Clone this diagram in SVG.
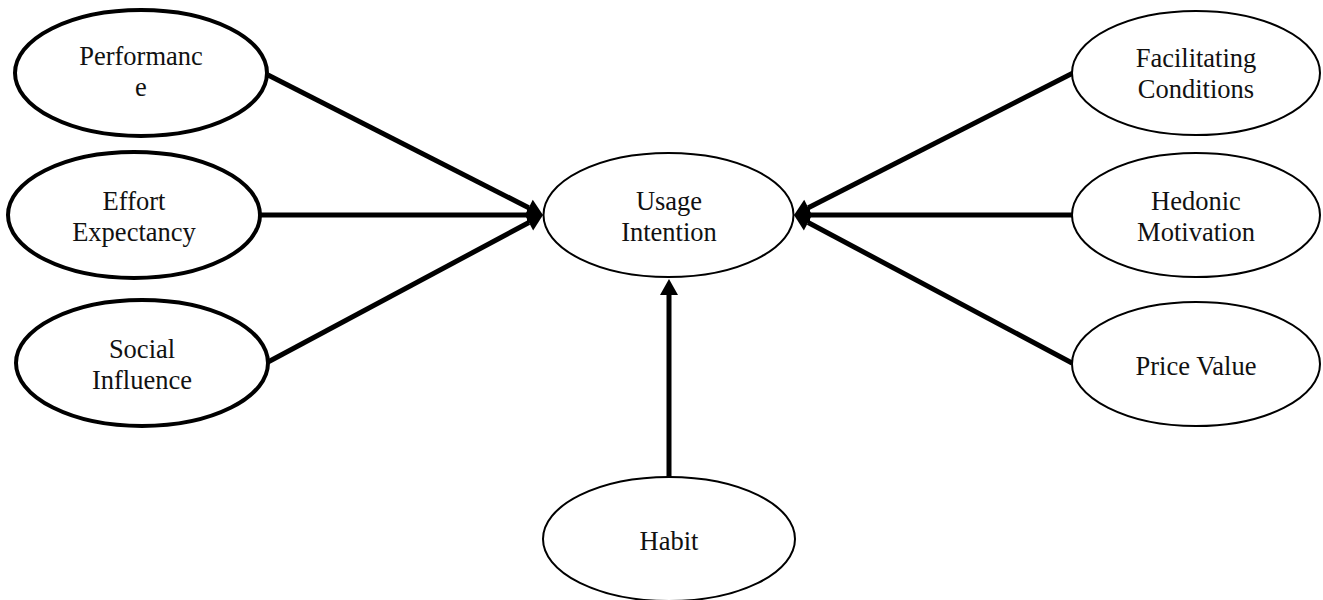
<svg xmlns="http://www.w3.org/2000/svg" width="1323" height="600" viewBox="0 0 1323 600">
  <style>
    .thick { fill: #fff; stroke: #000; stroke-width: 4; }
    .thin { fill: #fff; stroke: #000; stroke-width: 2; }
    .lbl { font-family: "Liberation Serif", "Times New Roman", serif; font-size: 26.5px; fill: #111; text-anchor: middle; }
    .conn { stroke: #000; stroke-width: 5; fill: none; marker-end: url(#arrow); }
  </style>
  <defs>
    <marker id="arrow" markerUnits="userSpaceOnUse" markerWidth="16" markerHeight="18" refX="0" refY="9" orient="auto" overflow="visible">
      <path d="M0,0 L16,9 L0,18 z" fill="#000"/>
    </marker>
  </defs>
  <rect width="1323" height="600" fill="#fff"/>

  <g id="connectors">
    <line class="conn" x1="268" y1="75" x2="528.7" y2="207.7"/>
    <line class="conn" x1="260" y1="215" x2="527" y2="215"/>
    <line class="conn" x1="268" y1="362" x2="528.9" y2="222.5"/>
    <line class="conn" x1="1073" y1="73" x2="808.3" y2="207.7"/>
    <line class="conn" x1="1072" y1="215" x2="810" y2="215"/>
    <line class="conn" x1="1072" y1="363" x2="808.1" y2="222.5"/>
    <line class="conn" x1="669" y1="477" x2="669" y2="295"/>
  </g>

  <g id="performance">
    <ellipse class="thick" cx="141" cy="73" rx="126" ry="63"/>
    <text class="lbl" x="141" y="65">Performanc</text>
    <text class="lbl" x="141" y="96">e</text>
  </g>
  <g id="effort">
    <ellipse class="thick" cx="134" cy="215" rx="126" ry="63"/>
    <text class="lbl" x="134" y="210">Effort</text>
    <text class="lbl" x="134" y="241">Expectancy</text>
  </g>
  <g id="social">
    <ellipse class="thick" cx="142" cy="363" rx="126" ry="63"/>
    <text class="lbl" x="142" y="358">Social</text>
    <text class="lbl" x="142" y="389">Influence</text>
  </g>
  <g id="usage">
    <ellipse class="thin" cx="668.5" cy="215" rx="125" ry="62"/>
    <text class="lbl" x="669" y="210">Usage</text>
    <text class="lbl" x="669" y="241">Intention</text>
  </g>
  <g id="facilitating">
    <ellipse class="thin" cx="1196" cy="73" rx="124" ry="62"/>
    <text class="lbl" x="1196" y="67">Facilitating</text>
    <text class="lbl" x="1196" y="98">Conditions</text>
  </g>
  <g id="hedonic">
    <ellipse class="thin" cx="1196" cy="215" rx="124" ry="62"/>
    <text class="lbl" x="1196" y="210">Hedonic</text>
    <text class="lbl" x="1196" y="241">Motivation</text>
  </g>
  <g id="price">
    <ellipse class="thin" cx="1196" cy="364" rx="124" ry="62"/>
    <text class="lbl" x="1196" y="375">Price Value</text>
  </g>
  <g id="habit">
    <ellipse class="thin" cx="669" cy="539" rx="126" ry="62"/>
    <text class="lbl" x="669" y="550">Habit</text>
  </g>
</svg>
